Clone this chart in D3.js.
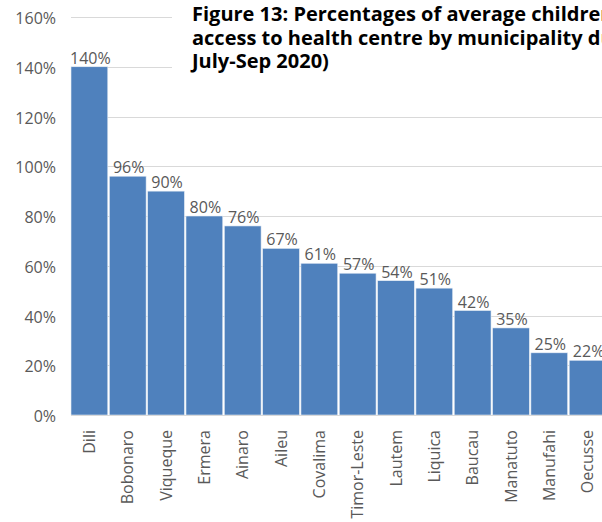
<!DOCTYPE html>
<html>
<head>
<meta charset="utf-8">
<script src="https://d3js.org/d3.v7.min.js"></script>
<style>
body { margin: 0; background: #fff; overflow: hidden; }
svg { display: block; }
</style>
</head>
<body>
<svg id="svgMain" width="602" height="522"></svg>
<script>
// data
var municipalities = ['Dili','Bobonaro','Viqueque','Ermera','Ainaro','Aileu','Covalima','Timor-Leste','Lautem','Liquica','Baucau','Manatuto','Manufahi','Oecusse'];
var percentages = [140, 96, 90, 80, 76, 67, 61, 57, 54, 51, 42, 35, 25, 22];
var yTicks = [0, 20, 40, 60, 80, 100, 120, 140, 160];
var titleLines = ['Figure 13: Percentages of average children',
                  'access to health centre by municipality during',
                  'July-Sep 2020)'];

var data = municipalities.map(function(m, i) { return {name: m, value: percentages[i]}; });

var svg = d3.select('#svgMain');
var plotLeft = 71, plotRight = 606, plotTop = 17, plotBottom = 415;
var font = 'Open Sans';

var xs = d3.scaleBand().domain(municipalities).range([plotLeft, plotRight]).paddingInner(0.04).paddingOuter(0);
var ys = d3.scaleLinear().domain([0, 160]).range([plotBottom, plotTop]);

// gridlines
svg.append('g')
  .selectAll('line')
  .data(yTicks.filter(function(t) { return t > 0; }))
  .enter()
  .append('line')
    .attr('x1', plotLeft)
    .attr('x2', 602)
    .attr('y1', function(d) { return Math.round(ys(d)) + 0.5; })
    .attr('y2', function(d) { return Math.round(ys(d)) + 0.5; })
    .style('stroke', '#d9d9d9')
    .style('stroke-width', 1);

// bars
svg.append('g')
  .selectAll('rect')
  .data(data)
  .enter()
  .append('rect')
    .attr('x', function(d) { return xs(d.name); })
    .attr('y', function(d) { return ys(d.value); })
    .attr('width', xs.bandwidth())
    .attr('height', function(d) { return ys(0) - ys(d.value); })
    .style('fill', '#4f81bd')
    .style('stroke', '#e8eef6')
    .style('stroke-width', 0.6);

// baseline
svg.append('line')
  .attr('x1', plotLeft).attr('x2', 602)
  .attr('y1', ys(0) + 0.5).attr('y2', ys(0) + 0.5)
  .style('stroke', '#d9d9d9');

// y axis labels
var yAxis = d3.axisLeft(ys).tickValues(yTicks).tickSize(0).tickPadding(0)
  .tickFormat(function(d) { return d + '%'; });
svg.append('g')
  .attr('transform', 'translate(56,1.5)')
  .call(yAxis)
  .call(function(g) { g.select('.domain').remove(); })
  .selectAll('text')
    .attr('font-family', font)
    .attr('font-size', 16)
    .attr('fill', '#595959');

// x axis labels (rotated)
var xAxis = d3.axisBottom(xs).tickSize(0).tickPadding(0);
svg.append('g')
  .attr('transform', 'translate(0,' + (plotBottom + 15) + ')')
  .call(xAxis)
  .call(function(g) { g.select('.domain').remove(); })
  .selectAll('text')
    .attr('font-family', font)
    .attr('font-size', 16)
    .attr('fill', '#595959')
    .attr('dy', '0.35em')
    .attr('y', 0)
    .attr('transform', 'rotate(-90)')
    .style('text-anchor', 'end');

// data labels
svg.append('g')
  .selectAll('text')
  .data(data)
  .enter()
  .append('text')
    .attr('x', function(d) { return xs(d.name) + xs.bandwidth() / 2 + 1; })
    .attr('y', function(d) { return ys(d.value) - 3; })
    .attr('text-anchor', 'middle')
    .attr('font-family', font)
    .attr('font-size', 16)
    .attr('fill', '#595959')
    .text(function(d) { return d.value + '%'; });

// title box over the chart
svg.append('rect')
  .attr('x', 172).attr('y', 0)
  .attr('width', 430).attr('height', 85)
  .style('fill', '#fff');
svg.append('g')
  .selectAll('text')
  .data(titleLines)
  .enter()
  .append('text')
    .attr('x', 192)
    .attr('y', function(d, i) { return 21 + i * 23.5; })
    .attr('font-family', font)
    .attr('font-weight', 'bold')
    .attr('font-size', 20)
    .attr('fill', '#000')
    .text(function(d) { return d; });
</script>
</body>
</html>
